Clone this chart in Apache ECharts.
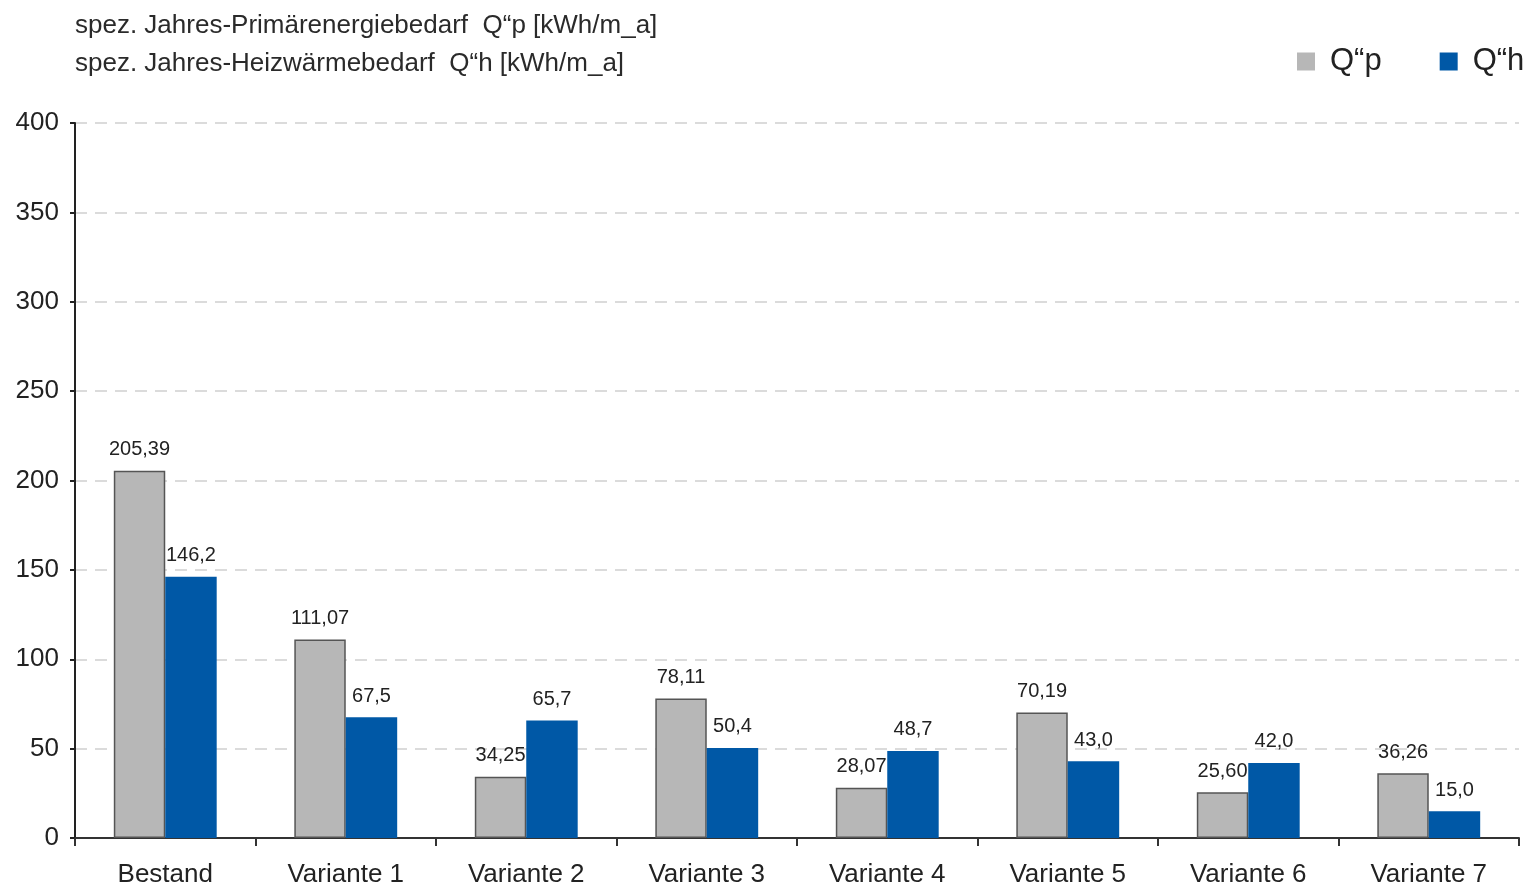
<!DOCTYPE html>
<html>
<head>
<meta charset="utf-8">
<script src="https://cdn.jsdelivr.net/npm/echarts@6/dist/echarts.min.js"></script>
<style>
html,body{margin:0;padding:0;background:#fff;}
#chart{width:1532px;height:890px;}
</style>
</head>
<body>
<div id="chart"></div>
<script>
const categories = ["Bestand", "Variante 1", "Variante 2", "Variante 3", "Variante 4", "Variante 5", "Variante 6", "Variante 7"];
const qpValues = [205.39, 111.07, 34.25, 78.11, 28.07, 70.19, 25.60, 36.26];
const qhValues = [146.2, 67.5, 65.7, 50.4, 48.7, 43.0, 42.0, 15.0];
const titleLines = ["spez. Jahres-Primärenergiebedarf  Q“p [kWh/m_a]", "spez. Jahres-Heizwärmebedarf  Q“h [kWh/m_a]"];
const seriesNames = ["Q“p", "Q“h"];
const yTicks = { min: 0, max: 400, interval: 50 };

const FONT = "Liberation Sans, Arial, sans-serif";
const chart = echarts.init(document.getElementById('chart'), null, { renderer: 'canvas' });

function fmt(decimals) {
  return p => p.value.toFixed(decimals).replace('.', ',');
}

chart.setOption({
  animation: false,
  backgroundColor: '#ffffff',
  textStyle: { fontFamily: FONT },
  title: {
    text: titleLines.join('\n'),
    left: 70, top: 2,
    textStyle: { fontFamily: FONT, fontSize: 26, fontWeight: 'normal', color: '#2a2a2a', lineHeight: 38 }
  },
  legend: {
    left: 1292, top: 41,
    itemWidth: 18, itemHeight: 18, itemGap: 58,
    icon: 'rect',
    itemStyle: { borderWidth: 0 },
    textStyle: { fontFamily: FONT, fontSize: 31, color: '#222', padding: [0, 0, 0, 10] },
    data: seriesNames
  },
  grid: { left: 75, right: 13, top: 123, bottom: 52, containLabel: false },
  xAxis: {
    type: 'category',
    data: categories,
    axisLine: { show: true, lineStyle: { color: '#333', width: 2 } },
    axisTick: { show: true, alignWithLabel: false, length: 8, lineStyle: { color: '#333', width: 2 } },
    axisLabel: { fontFamily: FONT, fontSize: 26, color: '#222', margin: 24 }
  },
  yAxis: {
    type: 'value',
    min: yTicks.min, max: yTicks.max, interval: yTicks.interval,
    axisLine: { show: true, lineStyle: { color: '#222', width: 2 } },
    axisTick: { show: true, length: 5, lineStyle: { color: '#222', width: 2 } },
    axisLabel: { fontFamily: FONT, fontSize: 26, color: '#222', margin: 16 },
    splitLine: { show: true, lineStyle: { color: '#cfcfcf', type: [12, 8], width: 1.5 } }
  },
  series: [
    {
      name: seriesNames[0], type: 'bar', data: qpValues,
      barGap: '0%', barCategoryGap: '43%',
      itemStyle: { color: '#b7b7b7', borderColor: '#555', borderWidth: 1.5 },
      label: { show: true, position: 'top', distance: 11, formatter: fmt(2), fontFamily: FONT, fontSize: 20, color: '#222' }
    },
    {
      name: seriesNames[1], type: 'bar', data: qhValues,
      itemStyle: { color: '#0058a6' },
      label: { show: true, position: 'top', distance: 11, formatter: fmt(1), fontFamily: FONT, fontSize: 20, color: '#222' }
    }
  ]
});
</script>
</body>
</html>
